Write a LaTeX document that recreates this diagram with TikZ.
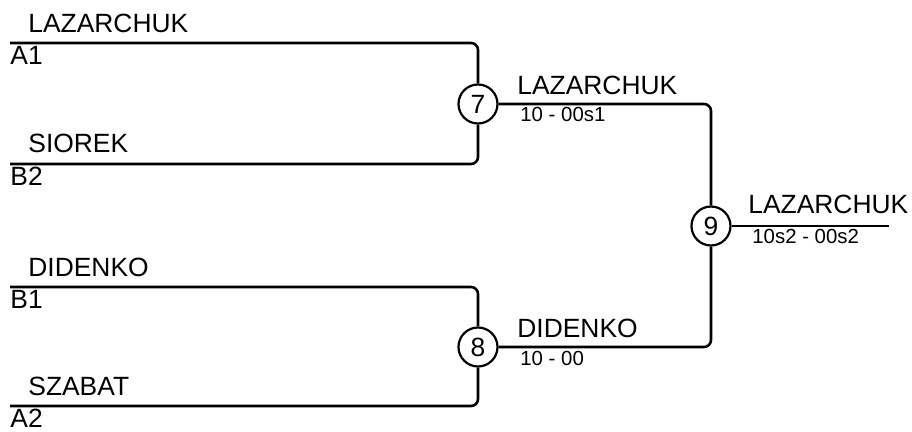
\documentclass[tikz,border=0pt]{standalone}
\usepackage{fontspec}
\setmainfont{Liberation Sans}
\usetikzlibrary{positioning}
\tikzset{
  bout/.style={draw, circle, line width=1.1pt, minimum size=19.5pt, inner sep=0pt,
    font=\fontsize{13.2}{15}\selectfont},
  fencer/.style={anchor=base west, inner sep=0pt, font=\fontsize{13.2}{15}\selectfont},
  score/.style={anchor=base west, inner sep=0pt, font=\fontsize{10.2}{12}\selectfont},
  wire/.style={line width=1.3pt, rounded corners=3.5pt}
}

\begin{document}
\begin{tikzpicture}[x=0.5pt, y=-0.5pt]
    \useasboundingbox (0,0) rectangle (912,432);

    %bouts
    \node[bout] (m7) at (478,104) {7};
    \node[bout] (m8) at (478,347) {8};
    \node[bout] (m9) at (711,226) {9};

    %line starts
    \coordinate (a1) at (10,43);
    \coordinate (b2) at (10,164);
    \coordinate (b1) at (10,287);
    \coordinate (a2) at (10,406);
    \coordinate (win) at (889,226);

    %first round
    \draw[wire] (a1) -| (m7);
    \draw[wire] (b2) -| (m7);
    \draw[wire] (b1) -| (m8);
    \draw[wire] (a2) -| (m8);

    %final
    \draw[wire] (m7) -| (m9);
    \draw[wire] (m8) -| (m9);
    \draw[wire] (m9) -- (win);

    %names and seeds
    \node[fencer] (n1) at (28,33) {LAZARCHUK};
    \node[fencer] (s1) at (10,65) {A1};
    \node[fencer] (n2) at (28,153) {SIOREK};
    \node[fencer] (s2) at (10,186) {B2};
    \node[fencer] (n3) at (28,277) {DIDENKO};
    \node[fencer] (s3) at (10,309) {B1};
    \node[fencer] (n4) at (28,396) {SZABAT};
    \node[fencer] (s4) at (10,428) {A2};

    %winners and scores
    \node[fencer] (w7) at (517,95) {LAZARCHUK};
    \node[score] (r7) at (520,122) {10 - 00s1};
    \node[fencer] (w8) at (517,338) {DIDENKO};
    \node[score] (r8) at (520,366) {10 - 00};
    \node[fencer] (w9) at (748,214) {LAZARCHUK};
    \node[score] (r9) at (752,244) {10s2 - 00s2};
\end{tikzpicture}
\end{document}
